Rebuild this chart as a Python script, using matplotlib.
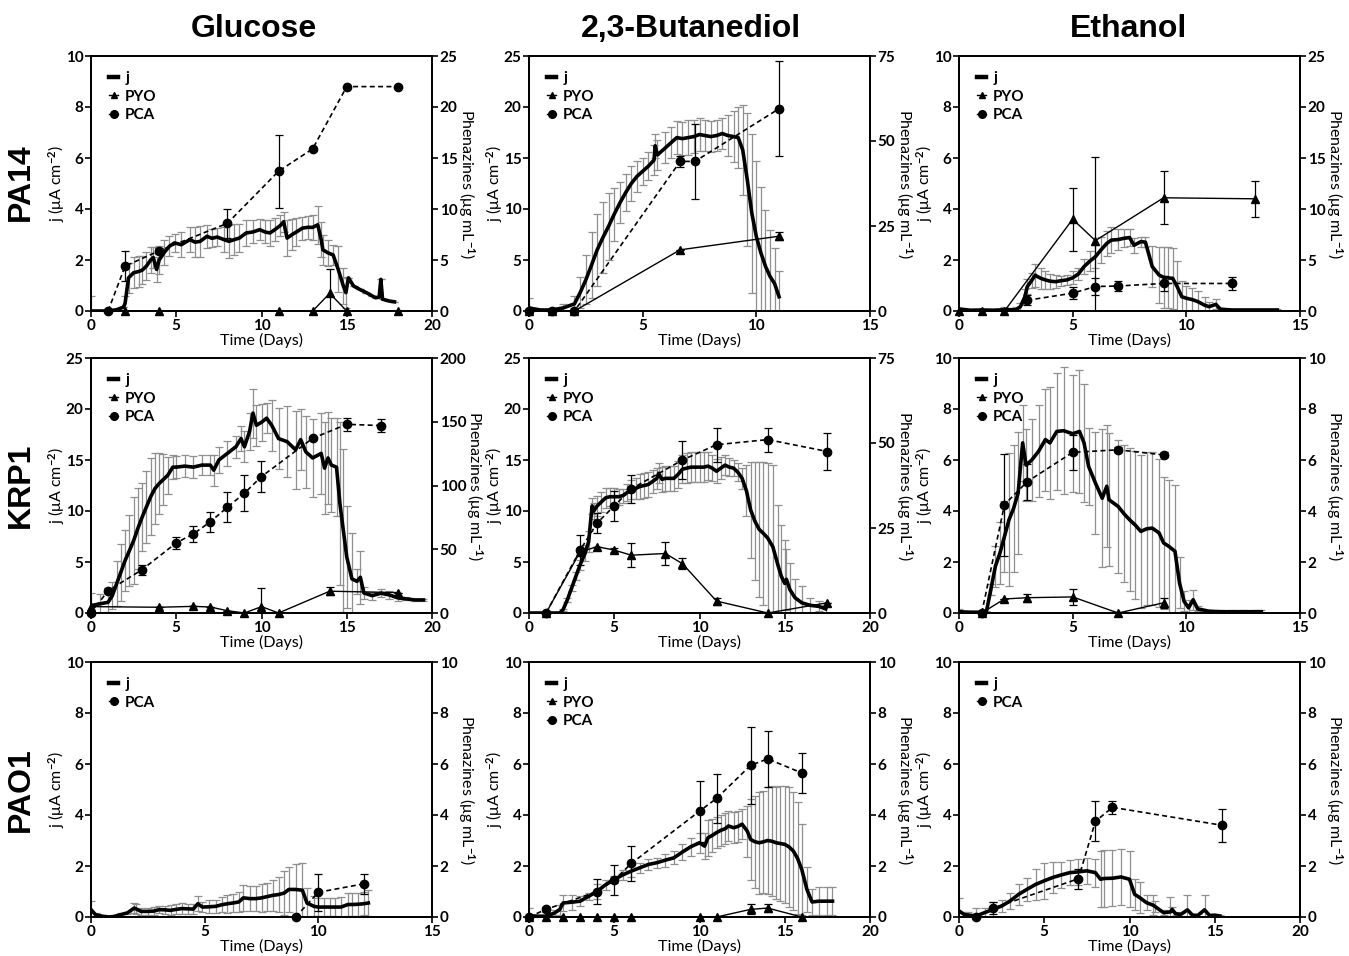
import matplotlib
matplotlib.use("Agg")
import matplotlib.pyplot as plt
from matplotlib.lines import Line2D

# ---------------- data ----------------
col_titles = ["Glucose", "2,3-Butanediol", "Ethanol"]
row_labels = ["PA14", "KRP1", "PAO1"]

# PA14 - Glucose
pa14_glc_t = [0, 1.0, 1.5, 1.9, 2.0, 2.2, 2.5, 2.8, 3.0, 3.25, 3.5, 3.65, 3.85, 4.0, 4.3, 4.6, 4.9, 5.3, 5.8, 6.1,
              6.4, 6.8, 7.1, 7.4, 7.8, 8.1, 8.4, 8.7, 9.1, 9.5, 9.9, 10.2, 10.5, 10.8, 11.1, 11.3, 11.5, 11.8, 12.05,
              12.4, 12.7, 13.0, 13.3, 13.5, 13.6, 13.9, 14.2, 14.5, 14.8, 14.95, 15.1, 15.4, 15.75, 16.15, 16.5, 16.7,
              16.9, 17.0, 17.1, 17.5, 17.8]
pa14_glc_j = [0.0, 0.0, 0.05, 0.15, 0.3, 1.3, 1.5, 1.55, 1.6, 1.76, 2.0, 2.1, 1.63, 2.0, 2.3, 2.54, 2.67, 2.6, 2.8, 2.7,
              2.73, 2.93, 2.85, 2.9, 2.8, 2.73, 2.8, 2.86, 3.06, 3.1, 3.19, 3.1, 3.06, 3.2, 3.35, 3.5, 2.86, 3.0, 3.1,
              3.25, 3.28, 3.28, 3.38, 2.8, 2.4, 2.28, 2.2, 1.63, 0.98, 0.72, 1.3, 0.98, 0.85, 0.72, 0.59, 0.52,
              0.55, 1.24, 0.46, 0.39, 0.36]
pa14_glc_je = [0.6, 0, 0, 0, 0.3, 0.6, 0.6, 0.6, 0.55, 0.55, 0.5, 0.4, 0.5, 0.55, 0.5, 0.4, 0.35, 0.5, 0.5, 0.6,
               0.6, 0.45, 0.35, 0.35, 0.5, 0.65, 0.6, 0.55, 0.5, 0.45, 0.4, 0.45, 0.5, 0.45, 0.4, 0.4, 0.7, 0.6, 0.55,
               0.45, 0.45, 0.5, 0.75, 0.7, 0.6, 0.5, 0.4, 0.9, 0.7, 0.6, 0, 0, 0, 0, 0, 0,
               0, 0, 0, 0, 0]
pa14_glc_pca_t = [1, 2, 4, 8, 11, 13, 15, 18]
pa14_glc_pca = [0, 4.4, 5.9, 8.6, 13.7, 15.9, 22.0, 22.0]
pa14_glc_pca_e = [0, 1.45, 0.3, 1.4, 3.6, 0, 0, 0]
pa14_glc_pyo_t = [2, 4, 11, 13, 14, 15, 18]
pa14_glc_pyo = [0, 0, 0, 0, 1.73, 0, 0]
pa14_glc_pyo_e = [0, 0, 0, 0, 2.4, 0, 0]

# PA14 - 2,3-Butanediol
pa14_bd_t = [0, 0.5, 1.0, 1.5, 2.0, 2.25, 2.5, 2.75, 3.0, 3.25, 3.5, 3.75, 4.0, 4.25, 4.5, 4.75, 5.0, 5.25, 5.5, 5.55,
             5.65, 6.0, 6.25, 6.5, 6.75, 7.0, 7.25, 7.5, 7.75, 8.0, 8.25, 8.5, 8.75, 9.0, 9.2, 9.4, 9.6, 9.8, 10.0,
             10.2, 10.4, 10.6, 10.8, 11.0]
pa14_bd_j = [0.3, 0.1, 0.1, 0.3, 0.7, 1.8, 3.05, 4.5, 6.0, 7.2, 8.3, 9.5, 10.6, 11.6, 12.5, 13.2, 13.7, 14.2, 14.8, 16.2,
             15.3, 16.0, 16.5, 17.0, 16.9, 17.0, 17.1, 17.3, 17.2, 17.1, 17.2, 17.4, 17.2, 17.1, 17.0, 15.8, 12.9, 9.6,
             7.3, 5.7, 4.4, 3.4, 2.7, 1.4]
pa14_bd_je = [1.0, 0.1, 0.2, 0.4, 0.8, 1.5, 2.4, 3.2, 3.5, 3.5, 3.3, 2.6, 2.0, 1.8, 1.7, 1.5, 1.3, 1.4, 1.5, 1.2,
              1.5, 1.5, 1.5, 1.6, 1.6, 1.7, 1.6, 1.6, 1.5, 1.5, 1.5, 1.5, 2.0, 2.5, 3.0, 4.4, 6.5, 7.8,
              7.4, 6.5, 5.5, 4.5, 3.5, 2.5]
pa14_bd_pca_t = [0, 1, 2, 6.65, 7.3, 11]
pa14_bd_pca = [0, 0, 0, 44, 44, 59.5]
pa14_bd_pca_e = [0, 0, 0, 1.5, 11, 14]
pa14_bd_pyo_t = [0, 1, 2, 6.65, 11]
pa14_bd_pyo = [0, 0, 0, 18, 22]
pa14_bd_pyo_e = [0, 0, 0, 0, 1.2]

# PA14 - Ethanol
pa14_eth_t = [0, 0.5, 1.0, 1.5, 2.0, 2.5, 2.7, 2.9, 3.0, 3.2, 3.35, 3.6, 3.8, 4.0, 4.25, 4.5, 4.75, 5.0, 5.25, 5.5,
              5.75, 6.0, 6.25, 6.5, 6.7, 7.0, 7.25, 7.5, 7.7, 8.0, 8.2, 8.5, 8.8, 9.0, 9.2, 9.4, 9.6, 9.8, 10.0, 10.25,
              10.5, 10.8, 11.0, 11.3, 11.5, 12.0, 12.5, 13.0, 13.5, 14.0]
pa14_eth_j = [0.08, 0.03, 0.04, 0.03, 0.05, 0.05, 0.17, 0.56, 0.95, 1.2, 1.4, 1.28, 1.22, 1.17, 1.15, 1.19, 1.22, 1.3,
              1.45, 1.74, 1.95, 2.13, 2.4, 2.65, 2.78, 2.8, 2.85, 2.88, 2.58, 2.72, 2.7, 1.74, 1.41, 1.32, 1.3, 1.28,
              0.95, 0.56, 0.5, 0.45, 0.37, 0.23, 0.17, 0.26, 0.07, 0.04, 0.04, 0.04, 0.04, 0.04]
pa14_eth_je = [0.05, 0.03, 0.03, 0.05, 0.1, 0.1, 0.15, 0.3, 0.3, 0.3, 0.45, 0.4, 0.35, 0.3, 0.25, 0.2, 0.2, 0.25,
               0.25, 0.3, 0.4, 0.45, 0.5, 0.5, 0.5, 0.4, 0.35, 0.35, 0.3, 0.2, 0.2, 0.8, 1.1, 1.2, 1.2, 1.2, 1.0,
               0.6, 0.5, 0.45, 0.4, 0.3, 0.2, 0.2, 0.05, 0.03, 0.03, 0.03, 0.03, 0.03]
pa14_eth_pca_t = [3, 5, 6, 7, 9, 12]
pa14_eth_pca = [1.05, 1.75, 2.4, 2.45, 2.7, 2.7]
pa14_eth_pca_e = [0.5, 0.6, 0.8, 0.5, 0.7, 0.6]
pa14_eth_pyo_t = [0, 1, 2, 5, 6, 9, 13]
pa14_eth_pyo = [0, 0, 0, 9.0, 6.9, 11.1, 11.0]
pa14_eth_pyo_e = [0, 0, 0, 3.1, 8.2, 2.6, 1.75]

# KRP1 - Glucose
krp1_glc_t = [0, 0.5, 1.0, 1.25, 1.5, 1.75, 2.0, 2.25, 2.5, 2.75, 3.0, 3.25, 3.5, 3.75, 4.0, 4.25, 4.5, 4.8, 5.0, 5.5,
              6.0, 6.5, 7.0, 7.2, 7.5, 8.0, 8.5, 8.8, 9.0, 9.3, 9.5, 9.7, 10.0, 10.3, 10.6, 11.0, 11.5, 12.0, 12.3,
              12.6, 13.0, 13.5, 13.7, 13.9, 14.1, 14.4, 14.6, 14.8, 15.0, 15.3, 15.6, 15.8, 16.0, 16.5, 17.0, 17.5,
              18.0, 18.5, 19.0, 19.5]
krp1_glc_j = [0.72, 0.89, 1.05, 1.7, 2.85, 4.0, 5.15, 6.1, 7.1, 8.3, 9.4, 10.4, 11.4, 12.2, 12.7, 13.1, 13.5, 14.3,
              14.3, 14.4, 14.3, 14.5, 14.5, 14.0, 15.0, 15.65, 16.3, 17.1, 16.3, 17.8, 19.6, 18.4, 18.7, 19.1, 18.4,
              17.1, 16.8, 16.0, 17.0, 15.8, 15.2, 15.65, 14.2, 15.2, 14.5, 14.3, 10.7, 8.1, 5.5, 3.35, 3.1, 3.5,
              1.97, 1.7, 1.94, 1.77, 1.48, 1.38, 1.28, 1.28]
krp1_glc_je = [1.2, 1.0, 1.0, 1.3, 2.2, 2.8, 3.0, 3.5, 4.3, 4.0, 3.3, 3.5, 3.8, 3.5, 3.0, 2.5, 1.8, 1.2, 1.1, 1.1,
               1.1, 1.0, 1.0, 1.5, 1.3, 1.2, 1.1, 1.2, 1.5, 1.8, 2.4, 2.0, 1.8, 1.5, 2.5, 3.0, 3.5, 3.8, 3.0,
               3.5, 3.8, 4.0, 4.5, 4.5, 4.6, 4.8, 8.0, 8.0, 5.0, 4.5, 1.2, 2.6, 0.6, 0.4, 0.4, 0.4,
               0.3, 0.15, 0.1, 0.1]
krp1_glc_pca_t = [0, 1, 3, 5, 6, 7, 8, 9, 10, 13, 15, 17]
krp1_glc_pca = [0, 17.5, 34, 55, 62, 71.5, 83, 94, 107, 137, 148, 147]
krp1_glc_pca_e = [0, 2, 4, 5, 6, 8, 12, 14, 12, 0, 5, 5]
krp1_glc_pyo_t = [0, 4, 6, 7, 8, 9, 10, 11, 14, 18]
krp1_glc_pyo = [5, 4.5, 5.2, 4.7, 1.8, 0, 5, 0, 17.1, 16]
krp1_glc_pyo_e = [0, 0, 0, 0, 0, 0, 14.7, 0, 3, 0]

# KRP1 - 2,3-Butanediol
krp1_bd_t = [0, 0.5, 1.0, 1.5, 1.8, 2.0, 2.25, 2.5, 2.75, 3.0, 3.3, 3.5, 3.7, 3.8, 4.0, 4.25, 4.5, 4.75, 5.0, 5.25,
             5.5, 5.75, 6.0, 6.25, 6.5, 6.75, 7.0, 7.25, 7.5, 7.6, 7.8, 8.0, 8.25, 8.5, 8.75, 9.0, 9.25, 9.5, 9.75,
             10.0, 10.25, 10.5, 10.75, 11.0, 11.25, 11.5, 11.75, 12.0, 12.25, 12.5, 12.75, 13.0, 13.25, 13.5, 13.75,
             14.0, 14.3, 14.6, 14.8, 15.0, 15.1, 15.3, 15.6, 16.0, 16.5, 17.0, 17.4]
krp1_bd_j = [0, 0, 0, 0, 0, 0.33, 1.3, 2.45, 3.6, 4.74, 5.9, 7.0, 10.5, 10.0, 10.5, 10.9, 11.3, 11.4, 11.4, 11.4,
             11.5, 11.8, 12.1, 12.2, 12.4, 12.5, 12.6, 12.9, 13.2, 13.7, 13.1, 13.2, 13.2, 13.2, 13.6, 14.1, 14.2,
             14.3, 14.3, 14.3, 14.3, 14.4, 14.2, 13.9, 14.2, 14.5, 14.3, 14.2, 13.8, 13.2, 12.0, 10.1, 9.0, 8.2,
             7.8, 7.35, 6.5, 4.7, 3.6, 2.9, 3.3, 2.3, 1.5, 1.0, 0.75, 0.65, 0.4]
krp1_bd_je = [0, 0, 0, 0, 0, 0.1, 0.2, 0.3, 0.4, 0.5, 0.8, 1.0, 0.8, 0.8, 1.0, 1.0, 1.0, 0.9, 0.9, 0.8, 0.7, 0.8,
              0.9, 1.0, 1.2, 1.2, 1.2, 1.1, 1.0, 1.0, 1.2, 1.2, 1.2, 1.2, 1.3, 1.4, 1.5, 1.5, 1.5, 1.5, 1.5, 1.4,
              1.3, 1.2, 1.1, 1.0, 0.9, 0.8, 0.9, 1.0, 2.5, 4.7, 5.8, 6.6, 7.0, 7.4, 8.0, 5.9, 5.0, 4.3, 3.0,
              2.6, 1.8, 1.6, 0.75, 0.5, 0.4]
krp1_bd_pca_t = [1, 3, 4, 5, 6, 9, 11, 14, 17.5]
krp1_bd_pca = [0, 18.5, 26.5, 31.5, 36.5, 45, 49.5, 51, 47.5]
krp1_bd_pca_e = [0, 4.5, 3, 4.5, 4, 5.5, 5, 3.5, 5.5]
krp1_bd_pyo_t = [1, 3, 4, 5, 6, 8, 9, 11, 14, 17.5]
krp1_bd_pyo = [0, 18, 19.5, 18.5, 17, 17.5, 14.5, 3.5, 0, 3]
krp1_bd_pyo_e = [0, 0, 0, 0.5, 3.5, 3.5, 1.7, 1.0, 0, 0]

# KRP1 - Ethanol
krp1_eth_t = [0, 0.5, 1.0, 1.2, 1.4, 1.6, 1.8, 2.0, 2.2, 2.4, 2.6, 2.8, 2.95, 3.2, 3.5, 3.8, 4.0, 4.3, 4.6, 5.0, 5.3,
              5.5, 5.7, 6.0, 6.3, 6.5, 6.6, 7.0, 7.25, 7.5, 7.75, 8.0, 8.25, 8.5, 8.8, 9.0, 9.25, 9.5, 9.7, 9.9,
              10.1, 10.3, 10.5, 11.0, 11.5, 12.0, 12.5, 13.0, 13.3]
krp1_eth_j = [0.05, 0.03, 0.03, 0.03, 0.92, 1.83, 2.35, 3.0, 3.66, 4.1, 4.7, 6.67, 5.8, 6.0, 6.34, 6.8, 6.67, 7.12,
              7.15, 7.03, 7.12, 6.67, 5.75, 5.1, 4.5, 4.97, 4.44, 4.18, 3.9, 3.66, 3.45, 3.2, 3.3, 3.33, 3.14, 2.75,
              2.6, 2.42, 1.18, 0.46, 0.2, 0.52, 0.16, 0.07, 0.05, 0.05, 0.05, 0.05, 0.05]
krp1_eth_je = [0.1, 0.03, 0.03, 0.05, 0.2, 0.8, 1.2, 1.4, 2.6, 2.5, 2.4, 1.5, 1.4, 1.6, 1.8, 2.0, 2.2, 2.3, 2.5, 2.3,
               2.4, 2.3, 1.5, 2.0, 2.7, 2.4, 2.6, 2.6, 2.7, 2.8, 2.9, 3.0, 3.0, 3.0, 2.9, 2.6, 2.6, 2.6, 1.0, 0.4,
               0.3, 0.4, 0.1, 0.05, 0.05, 0.05, 0.05, 0.05, 0.05]
krp1_eth_pca_t = [1, 2, 3, 5, 7, 9]
krp1_eth_pca = [0, 4.25, 5.15, 6.3, 6.4, 6.2]
krp1_eth_pca_e = [0, 2.0, 0.7, 0.7, 0.1, 0.1]
krp1_eth_pyo_t = [1, 2, 3, 5, 7, 9]
krp1_eth_pyo = [0, 0.55, 0.6, 0.63, 0, 0.4]
krp1_eth_pyo_e = [0, 0, 0.15, 0.3, 0, 0.2]

# PAO1 - Glucose
pao1_glc_t = [0, 0.2, 0.5, 0.8, 1.0, 1.3, 1.6, 1.9, 2.0, 2.2, 2.5, 2.75, 3.0, 3.25, 3.5, 3.75, 4.0, 4.25, 4.5, 4.7,
              4.9, 5.2, 5.5, 5.75, 6.0, 6.25, 6.5, 6.7, 7.0, 7.25, 7.5, 7.75, 8.0, 8.25, 8.5, 8.7, 9.0, 9.3, 9.5,
              9.8, 10.0, 10.25, 10.5, 10.75, 11.0, 11.3, 11.5, 11.75, 12.0, 12.2]
pao1_glc_j = [0.29, 0.09, 0.03, 0.0, 0.02, 0.09, 0.16, 0.35, 0.31, 0.22, 0.22, 0.23, 0.29, 0.28, 0.26, 0.3, 0.33,
              0.32, 0.31, 0.52, 0.39, 0.4, 0.42, 0.48, 0.52, 0.55, 0.59, 0.75, 0.72, 0.72, 0.75, 0.8, 0.85, 0.88,
              0.94, 1.08, 1.08, 1.05, 0.55, 0.42, 0.39, 0.39, 0.39, 0.39, 0.39, 0.49, 0.49, 0.5, 0.52, 0.55]
pao1_glc_je = [0.35, 0.05, 0.02, 0, 0.02, 0.05, 0.05, 0.2, 0.2, 0.15, 0.15, 0.15, 0.15, 0.15, 0.2, 0.2, 0.2, 0.2,
               0.2, 0.3, 0.2, 0.25, 0.25, 0.3, 0.35, 0.35, 0.4, 0.5, 0.5, 0.5, 0.55, 0.55, 0.6, 0.7, 0.85, 0.9,
               1.0, 1.05, 0.6, 0.4, 0.35, 0.35, 0.35, 0.35, 0.4, 0.45, 0.45, 0.45, 0.45, 0.5]
pao1_glc_pca_t = [9, 10, 12]
pao1_glc_pca = [0, 0.97, 1.3]
pao1_glc_pca_e = [0, 0.73, 0.4]

# PAO1 - 2,3-Butanediol
pao1_bd_t = [0, 0.5, 1.0, 1.5, 1.8, 2.0, 2.5, 3.0, 3.5, 4.0, 4.5, 5.0, 5.5, 6.0, 6.5, 7.0, 7.5, 8.0, 8.5, 9.0, 9.5,
             10.0, 10.3, 10.5, 10.75, 11.0, 11.25, 11.5, 11.7, 12.0, 12.25, 12.5, 12.8, 13.0, 13.25, 13.5, 13.75,
             14.0, 14.25, 14.5, 14.75, 15.0, 15.25, 15.5, 15.75, 16.0, 16.3, 16.6, 17.0, 17.5, 17.8]
pao1_bd_j = [0.05, 0.03, 0.03, 0.16, 0.29, 0.55, 0.58, 0.62, 0.81, 1.01, 1.27, 1.47, 1.65, 1.8, 1.93, 2.06, 2.13,
             2.23, 2.32, 2.55, 2.76, 2.91, 2.78, 3.11, 3.2, 3.31, 3.4, 3.46, 3.57, 3.5, 3.55, 3.64, 3.37, 3.04,
             2.95, 2.91, 2.95, 3.0, 2.97, 2.91, 2.88, 2.85, 2.75, 2.59, 2.3, 1.86, 1.08, 0.59, 0.62, 0.62, 0.62]
pao1_bd_je = [0.3, 0.05, 0.05, 0.1, 0.2, 0.3, 0.3, 0.2, 0.15, 0.3, 0.2, 0.15, 0.2, 0.25, 0.2, 0.2, 0.2, 0.25, 0.25,
              0.3, 0.35, 0.4, 0.5, 0.7, 0.65, 0.6, 0.6, 0.6, 0.6, 0.6, 0.6, 0.6, 1.0, 1.6, 1.8, 2.0, 2.0, 2.1,
              2.15, 2.2, 2.25, 2.3, 2.35, 2.3, 2.2, 1.8, 0.9, 0.5, 0.55, 0.55, 0.55]
pao1_bd_pca_t = [0, 1, 4, 5, 6, 10, 11, 13, 14, 16]
pao1_bd_pca = [0, 0.3, 1.0, 1.45, 2.1, 4.15, 4.65, 5.95, 6.2, 5.65]
pao1_bd_pca_e = [0, 0.1, 0.5, 0.6, 0.7, 1.2, 0.95, 1.5, 1.1, 0.8]
pao1_bd_pyo_t = [0, 1, 2, 3, 4, 5, 6, 10, 11, 13, 14, 16]
pao1_bd_pyo = [0, 0, 0, 0, 0, 0, 0, 0, 0, 0.3, 0.35, 0]
pao1_bd_pyo_e = [0, 0, 0, 0, 0, 0, 0, 0, 0, 0.2, 0.15, 0]

# PAO1 - Ethanol
pao1_eth_t = [0, 0.3, 0.5, 1.0, 1.5, 2.0, 2.5, 3.0, 3.5, 4.0, 4.5, 5.0, 5.5, 6.0, 6.5, 7.0, 7.5, 8.0, 8.3, 8.5, 9.0,
              9.5, 10.0, 10.3, 10.6, 11.0, 11.4, 11.5, 12.0, 12.4, 12.5, 12.7, 13.0, 13.4, 13.7, 14.0, 14.4, 14.7,
              15.0, 15.3]
pao1_eth_j = [0.24, 0.1, 0.08, 0.04, 0.17, 0.3, 0.43, 0.63, 0.89, 1.09, 1.28, 1.42, 1.55, 1.65, 1.74, 1.77, 1.81,
              1.74, 1.48, 1.51, 1.52, 1.57, 1.48, 0.89, 0.76, 0.56, 0.46, 0.41, 0.17, 0.2, 0.3, 0.13, 0.1, 0.28,
              0.07, 0.06, 0.28, 0.06, 0.07, 0.04]
pao1_eth_je = [0.5, 0.1, 0.1, 0.3, 0.2, 0.3, 0.25, 0.3, 0.4, 0.45, 0.6, 0.7, 0.6, 0.5, 0.5, 0.5, 0.5, 0.55, 1.1,
               1.1, 1.1, 1.1, 1.1, 0.6, 0.6, 0.3, 0.4, 0.2, 0.1, 0.6, 0.1, 0.05, 0.05, 0.6, 0.05, 0.05, 0.6,
               0.05, 0.05, 0.05]
pao1_eth_pca_t = [1, 2, 7, 8, 9, 15.4]
pao1_eth_pca = [0, 0.35, 1.5, 3.75, 4.3, 3.6]
pao1_eth_pca_e = [0, 0.25, 0.4, 0.78, 0.25, 0.65]

# axis ranges / ticks per panel
x_max = [[20, 15, 15], [20, 20, 15], [15, 20, 20]]
jl_max = [[10, 25, 10], [25, 25, 10], [10, 10, 10]]
jl_step = [[2, 5, 2], [5, 5, 2], [2, 2, 2]]
ph_max = [[25, 75, 25], [200, 75, 10], [10, 10, 10]]
ph_step = [[5, 25, 5], [50, 25, 2], [2, 2, 2]]

# ---------------- style ----------------
plt.rcParams['font.family'] = ['Lato', 'DejaVu Sans']
plt.rcParams['font.weight'] = 'bold'
plt.rcParams['mathtext.fontset'] = 'custom'
plt.rcParams['mathtext.rm'] = 'Lato:bold'
plt.rcParams['mathtext.it'] = 'Lato:bold'
plt.rcParams['mathtext.bf'] = 'Lato:bold'
plt.rcParams['mathtext.default'] = 'bf'

FS = 11
GRAY = '#8f8f8f'

panels = [
    [(pa14_glc_t, pa14_glc_j, pa14_glc_je, pa14_glc_pyo_t, pa14_glc_pyo, pa14_glc_pyo_e,
      pa14_glc_pca_t, pa14_glc_pca, pa14_glc_pca_e),
     (pa14_bd_t, pa14_bd_j, pa14_bd_je, pa14_bd_pyo_t, pa14_bd_pyo, pa14_bd_pyo_e,
      pa14_bd_pca_t, pa14_bd_pca, pa14_bd_pca_e),
     (pa14_eth_t, pa14_eth_j, pa14_eth_je, pa14_eth_pyo_t, pa14_eth_pyo, pa14_eth_pyo_e,
      pa14_eth_pca_t, pa14_eth_pca, pa14_eth_pca_e)],
    [(krp1_glc_t, krp1_glc_j, krp1_glc_je, krp1_glc_pyo_t, krp1_glc_pyo, krp1_glc_pyo_e,
      krp1_glc_pca_t, krp1_glc_pca, krp1_glc_pca_e),
     (krp1_bd_t, krp1_bd_j, krp1_bd_je, krp1_bd_pyo_t, krp1_bd_pyo, krp1_bd_pyo_e,
      krp1_bd_pca_t, krp1_bd_pca, krp1_bd_pca_e),
     (krp1_eth_t, krp1_eth_j, krp1_eth_je, krp1_eth_pyo_t, krp1_eth_pyo, krp1_eth_pyo_e,
      krp1_eth_pca_t, krp1_eth_pca, krp1_eth_pca_e)],
    [(pao1_glc_t, pao1_glc_j, pao1_glc_je, None, None, None,
      pao1_glc_pca_t, pao1_glc_pca, pao1_glc_pca_e),
     (pao1_bd_t, pao1_bd_j, pao1_bd_je, pao1_bd_pyo_t, pao1_bd_pyo, pao1_bd_pyo_e,
      pao1_bd_pca_t, pao1_bd_pca, pao1_bd_pca_e),
     (pao1_eth_t, pao1_eth_j, pao1_eth_je, None, None, None,
      pao1_eth_pca_t, pao1_eth_pca, pao1_eth_pca_e)],
]

W, H = 1349, 956
fig = plt.figure(figsize=(W / 100, H / 100), dpi=100)

col_left = [91, 529, 959]
row_top = [56, 358, 662]
ax_w, ax_h = 341, 255

for r in range(3):
    for c in range(3):
        t, j, je, pyt, py, pye, pct, pc, pce = panels[r][c]
        ax = fig.add_axes([col_left[c] / W, 1 - (row_top[r] + ax_h) / H, ax_w / W, ax_h / H])
        ax2 = ax.twinx()
        # j with gray error bars
        ax.errorbar(t, j, yerr=je, fmt='none', ecolor=GRAY, elinewidth=0.9, capsize=3, capthick=0.9, zorder=2)
        ax.plot(t, j, color='black', lw=2.6, zorder=3, solid_joinstyle='round')
        ax.set_xlim(0, x_max[r][c])
        ax.set_ylim(0, jl_max[r][c])
        ax.set_xticks(range(0, x_max[r][c] + 1, 5))
        ax.set_yticks(range(0, jl_max[r][c] + 1, jl_step[r][c]))
        ax2.set_ylim(0, ph_max[r][c])
        ax2.set_yticks(range(0, ph_max[r][c] + 1, ph_step[r][c]))
        handles = [Line2D([0], [0], color='black', lw=3.2)]
        labels = ['j']
        if pyt is not None:
            ax2.errorbar(pyt, py, yerr=pye, fmt='none', ecolor='black', elinewidth=0.9, capsize=3, capthick=0.9)
            ax2.plot(pyt, py, color='black', lw=1.0, marker='^', ms=5.5, clip_on=False, zorder=4)
            handles.append(Line2D([0], [0], color='black', lw=1.0, marker='^', ms=5))
            labels.append('PYO')
        ax2.errorbar(pct, pc, yerr=pce, fmt='none', ecolor='black', elinewidth=0.9, capsize=3, capthick=0.9)
        ax2.plot(pct, pc, color='black', lw=1.2, ls=(0, (3, 2)), marker='o', ms=6, clip_on=False, zorder=4)
        handles.append(Line2D([0], [0], color='black', lw=1.0, marker='o', ms=5.5))
        labels.append('PCA')

        for a in (ax, ax2):
            a.tick_params(direction='out', length=4, width=1.2, labelsize=FS, pad=1.5)
            for s in a.spines.values():
                s.set_linewidth(1.3)
        ax.set_xlabel('Time (Days)', fontsize=FS + 0.5, labelpad=0)
        ax.set_ylabel('j (μA cm$^{-2}$)', fontsize=FS + 0.5, va='center', ha='center')
        ax.yaxis.set_label_coords(-0.1, 0.5)
        ax2.set_ylabel('Phenazines (μg mL$^{-1}$)', fontsize=FS + 0.5, rotation=270, va='center', ha='center')
        ax2.yaxis.set_label_coords(1.125 if ph_max[r][c] >= 100 else 1.10, 0.5)
        for lab in ax.get_xticklabels() + ax.get_yticklabels() + ax2.get_yticklabels():
            lab.set_fontweight('bold')
        ax2.legend(handles, labels, loc='upper left', bbox_to_anchor=(0.035, 0.965), frameon=False,
                   handlelength=0.6, handletextpad=0.45, labelspacing=0.3, borderaxespad=0,
                   prop={'weight': 'bold', 'size': FS})

title_x = [254, 691, 1129]
for c in range(3):
    fig.text(title_x[c] / W, 1 - 29 / H, col_titles[c], ha='center', va='center', fontsize=23,
             fontweight='bold', family='Liberation Sans')
row_y = [182, 485, 790]
for r in range(3):
    fig.text(21 / W, 1 - row_y[r] / H, row_labels[r], ha='center', va='center', rotation=90, fontsize=23,
             fontweight='bold', family='Liberation Sans')

fig.savefig('out.png', dpi=100)
